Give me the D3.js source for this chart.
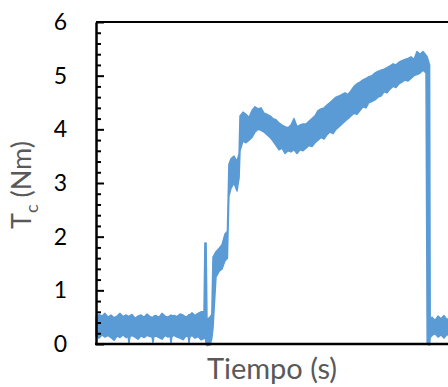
<!DOCTYPE html>
<html>
<head>
<meta charset="utf-8">
<script src="https://cdn.jsdelivr.net/npm/d3@7"></script>
<style>
  html, body { margin: 0; padding: 0; background: #fff; }
  svg { display: block; }
</style>
</head>
<body>
<svg id="chart" width="448" height="387"></svg>
<script>
// Torque trace Tc (Nm) against time: upper and lower edges of the noisy signal band
const time = [
  0,1,2,3,4,5,6,7,8,9,10,10.7,11,11.3,12,13,14,15,16,17,18,18.7,19,19.3,20,21,22,23,24,24.7,25,25.3,26,27,28,29,30,30.7,31,31.3,32,33,34,35,
  36,36.3,36.7,37,38,38.6,39,40,41,42,43,43.8,44.3,45,46,47,47.7,48,49,50,51,52,53,54,55,56,57,58,59,60,
  61,62,63,64,65,66,67,68,69,70,71,72,73,74,75,76,77,78,79,80,81,82,83,84,85,86,87,88,89,90,
  91,92,93,94,95,96,97,98,99,100,101,102,103,104,105,106,107,108,109,110,110.4,111.2,111.4,112,113,114,115,116,117,118
];
const upper = [
  0.50,0.55,0.52,0.57,0.50,0.54,0.49,0.52,0.57,0.51,0.54,0.52,0.50,0.53,0.55,0.48,0.52,0.54,0.50,0.56,0.51,0.50,0.49,0.52,0.53,0.50,0.57,0.52,0.50,0.53,0.54,0.52,0.53,0.51,0.56,0.54,0.50,0.53,0.55,0.54,0.58,0.53,0.57,0.60,
  0.60,1.88,1.88,0.45,0.50,0.55,1.62,1.72,1.78,1.85,2.05,2.10,3.35,3.45,3.50,3.40,3.55,4.25,4.32,4.28,4.22,4.35,4.42,4.38,4.40,4.30,4.28,4.25,4.20,4.18,
  4.12,4.08,4.05,4.03,4.08,4.20,4.05,4.08,4.10,4.10,4.15,4.20,4.25,4.35,4.38,4.40,4.45,4.50,4.55,4.60,4.62,4.65,4.68,4.65,4.72,4.80,4.85,4.88,4.92,4.95,
  4.98,5.00,5.05,5.08,5.10,5.12,5.15,5.18,5.22,5.20,5.25,5.28,5.30,5.32,5.35,5.30,5.45,5.40,5.45,5.38,5.35,5.20,0.45,0.50,0.44,0.52,0.47,0.53,0.45,0.50
];
const lower = [
  0.15,0.11,0.17,0.13,0.16,0.12,0.07,0.15,0.12,0.17,0.12,0.14,0.02,0.13,0.16,0.13,0.09,0.15,0.12,0.16,0.14,0.13,0.03,0.14,0.15,0.12,0.09,0.16,0.13,0.15,0.02,0.14,0.16,0.13,0.11,0.08,0.15,0.14,0.03,0.13,0.16,0.11,0.14,0.08,
  0.10,0.20,0.00,-0.03,-0.02,0.10,0.30,1.25,1.35,1.40,1.55,1.60,2.75,2.90,3.00,2.85,3.10,3.60,3.78,3.75,3.80,3.85,3.95,4.00,3.98,3.95,3.90,3.85,3.78,3.70,
  3.62,3.65,3.55,3.60,3.58,3.62,3.55,3.62,3.60,3.65,3.70,3.68,3.75,3.80,3.85,3.82,3.90,3.95,3.92,4.00,4.05,4.10,4.15,4.20,4.25,4.30,4.28,4.35,4.42,4.40,
  4.50,4.52,4.55,4.60,4.62,4.70,4.68,4.75,4.80,4.78,4.85,4.88,4.92,4.90,4.95,5.00,5.02,5.05,5.10,5.05,0.00,-0.02,0.12,0.16,0.19,0.13,0.17,0.11,0.18,0.14
];
const yTicks = [0, 1, 2, 3, 4, 5, 6];
const yMinorTicks = d3.range(0, 30).map(i => i / 5).filter(v => !Number.isInteger(v));
const xTitle = "Tiempo (s)";
const yTitleMain = "T";
const yTitleSub = "c";
const yTitleUnit = " (Nm)";

const series = time.map((t, i) => ({ t, hi: upper[i], lo: lower[i] }));

const svg = d3.select("#chart");
const plotLeft = 96, plotTop = 22, plotBottom = 344, plotRight = 456;

const x = d3.scaleLinear().domain([0, 120]).range([plotLeft, plotRight]);
const y = d3.scaleLinear().domain([0, 6]).range([plotBottom, plotTop]);

const lineColor = "#5B9BD5";

// signal band
svg.append("path")
  .datum(series)
  .attr("fill", lineColor)
  .attr("stroke", lineColor)
  .attr("stroke-width", 1.5)
  .attr("stroke-linejoin", "round")
  .attr("d", d3.area().x(d => x(d.t)).y0(d => y(d.lo)).y1(d => y(d.hi)));

// top frame line
svg.append("line")
  .attr("x1", plotLeft).attr("x2", 448)
  .attr("y1", plotTop).attr("y2", plotTop)
  .attr("stroke", "#000").attr("stroke-width", 2);

// bottom axis line
svg.append("line")
  .attr("x1", plotLeft - 1).attr("x2", 448)
  .attr("y1", plotBottom).attr("y2", plotBottom)
  .attr("stroke", "#000").attr("stroke-width", 2.5);

// minor y ticks
const minorAxis = svg.append("g")
  .attr("transform", `translate(${plotLeft},0)`)
  .call(d3.axisLeft(y).tickValues(yMinorTicks).tickSizeInner(-5).tickSizeOuter(0).tickFormat(""));
minorAxis.select(".domain").remove();
minorAxis.selectAll(".tick line").attr("stroke", "#000").attr("stroke-width", 2);

// major y ticks and labels
const yAxis = svg.append("g")
  .attr("transform", `translate(${plotLeft},0)`)
  .call(d3.axisLeft(y).tickValues(yTicks).tickSizeInner(-8).tickSizeOuter(0).tickPadding(29).tickFormat(d3.format("d")));
yAxis.select(".domain").attr("stroke", "#000").attr("stroke-width", 2.5);
yAxis.selectAll(".tick line").attr("stroke", "#000").attr("stroke-width", 2);
yAxis.selectAll(".tick text")
  .attr("fill", "#000")
  .style("font-family", "Lato, 'Open Sans', sans-serif")
  .style("font-size", "23px");

// axis titles
svg.append("text")
  .attr("x", 272).attr("y", 379)
  .attr("text-anchor", "middle")
  .attr("fill", "#595959")
  .style("font-family", "Lato, 'Open Sans', sans-serif")
  .style("font-size", "29px")
  .text(xTitle);

const yt = svg.append("text")
  .attr("transform", "translate(31,185) rotate(-90)")
  .attr("text-anchor", "middle")
  .attr("fill", "#595959")
  .style("font-family", "Lato, 'Open Sans', sans-serif")
  .style("font-size", "27px");
yt.append("tspan").text(yTitleMain);
yt.append("tspan").attr("dy", 7).style("font-size", "18px").text(yTitleSub);
yt.append("tspan").attr("dy", -7).text(yTitleUnit);
</script>
</body>
</html>
